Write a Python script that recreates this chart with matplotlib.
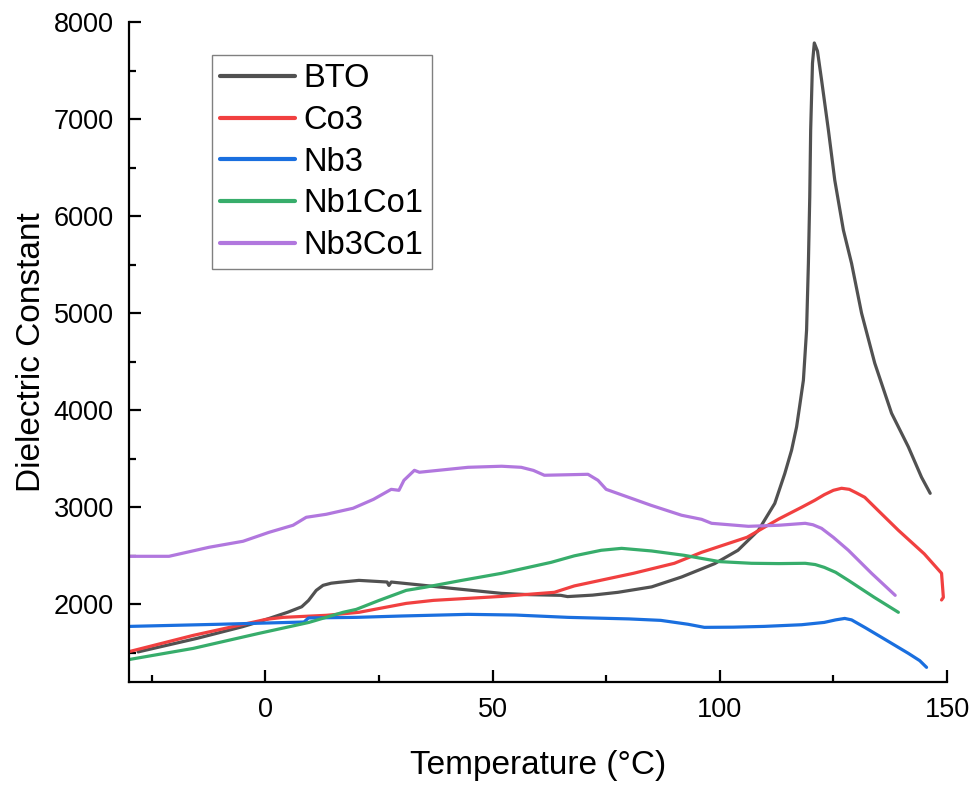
import matplotlib
matplotlib.use("Agg")
import matplotlib.pyplot as plt
from matplotlib.ticker import MultipleLocator

plt.rcParams['font.family'] = ['Liberation Sans', 'DejaVu Sans']

# ---- data ----
bto_x = [-28, -15, -5, -1.4, 5, 8, 9.5, 11.2, 12.7, 14.5, 16.2, 20.6, 25, 26.8, 27.2, 27.7, 34, 41, 52, 58, 65, 66.5, 72,
         77.6, 85, 91.6, 98.9, 104, 108.5, 112.1, 114.3, 115.8, 116.9, 117.6, 118.4, 119.1, 119.5, 119.8, 120.0, 120.4,
         120.8, 121.5, 122.4, 123.9, 125.3, 127.2, 129, 131.2, 134.1, 137.8, 141.5, 144.4, 146.3]
bto_y = [1510, 1650, 1770, 1820, 1920, 1975, 2040, 2144, 2196, 2218, 2227, 2247, 2235, 2230, 2195, 2230, 2200, 2165, 2113, 2100,
         2093, 2080, 2095, 2124, 2180, 2282, 2420, 2557, 2763, 3040, 3347, 3588, 3828, 4050, 4309, 4825, 5513, 6200, 6887,
         7575, 7784, 7700, 7402, 6887, 6371, 5856, 5513, 5000, 4485, 3969, 3622, 3309, 3144]

co3_x = [-29.8, -15.9, 0.1, 3.9, 13.4, 20.6, 31, 37, 52, 63.6, 68, 81, 90, 96, 106, 113, 118, 120.9, 123, 125, 126.8, 128.5,
         130, 131.9, 135, 139.3, 145, 148.8, 149.2, 148.8]
co3_y = [1515, 1680, 1845, 1866, 1887, 1918, 2010, 2041, 2082, 2124, 2190, 2320, 2423, 2536, 2691, 2880, 3000, 3072, 3130, 3175,
         3196, 3185, 3150, 3103, 2960, 2763, 2520, 2320, 2072, 2045]

nb3_x = [-29.8, -10, 8.5, 9.5, 20, 30, 44.6, 55, 66.6, 80, 87, 93, 96.6, 103, 109.8, 118, 123, 125.5, 127.5, 129, 132,
         135.6, 141.5, 144, 145.5]
nb3_y = [1773, 1795, 1818, 1860, 1866, 1880, 1897, 1890, 1866, 1850, 1835, 1795, 1763, 1765, 1773, 1790, 1814, 1840, 1855, 1840,
         1760, 1660, 1495, 1420, 1351]

nb1co1_x = [-29.8, -15.9, -1.4, 9.6, 17.1, 20, 25, 31, 35, 43, 52, 62.9, 68, 73.9, 78.4, 85, 92.2, 100, 107, 113, 118.8, 121,
            123, 125.5, 128.3, 134, 139.3]
nb1co1_y = [1433, 1546, 1701, 1814, 1918, 1948, 2040, 2144, 2175, 2245, 2320, 2433, 2500, 2557, 2577, 2550, 2505, 2440, 2423, 2420,
            2423, 2410, 2381, 2330, 2247, 2072, 1918]

nb3co1_x = [-29.8, -21.2, -12.4, -4.9, 0.8, 6.1, 9, 13.4, 19.3, 23.8, 27.7, 29.4, 30.5, 32.8, 33.9, 44.6, 52, 56.3, 59, 61.4,
            71, 73.2, 75, 84.9, 91.6, 96, 98.2, 106.3, 113, 118.8, 120.5, 122.4, 125, 128.3, 133.4, 138.6]
nb3co1_y = [2495, 2495, 2588, 2650, 2742, 2815, 2897, 2928, 2990, 3082, 3185, 3175, 3278, 3381, 3361, 3412, 3423, 3412, 3380, 3330,
            3340, 3278, 3185, 3020, 2918, 2876, 2835, 2804, 2815, 2835, 2820, 2783, 2690, 2557, 2320, 2093]

series_names = ["BTO", "Co3", "Nb3", "Nb1Co1", "Nb3Co1"]
series_colors = ["#515151", "#F14040", "#1A6FDF", "#37AD6B", "#B177DE"]

x_ticks = [0, 50, 100, 150]
y_ticks = [2000, 3000, 4000, 5000, 6000, 7000, 8000]

fig = plt.figure(figsize=(9.75, 7.85), dpi=100)
ax = fig.add_axes([129 / 975, 1 - 682 / 785, (947 - 129) / 975, (682 - 22) / 785])

data = [(bto_x, bto_y), (co3_x, co3_y), (nb3_x, nb3_y), (nb1co1_x, nb1co1_y), (nb3co1_x, nb3co1_y)]
for (xs, ys), name, c in zip(data, series_names, series_colors):
    ax.plot(xs, ys, color=c, lw=2.3, label=name, solid_capstyle='round', solid_joinstyle='round')

ax.set_xlim(-30, 150)
ax.set_ylim(1200, 8000)
ax.set_xticks(x_ticks)
ax.set_yticks(y_ticks)
ax.xaxis.set_minor_locator(MultipleLocator(25))
ax.yaxis.set_minor_locator(MultipleLocator(500))

for s in ['top', 'right']:
    ax.spines[s].set_visible(False)
for s in ['left', 'bottom']:
    ax.spines[s].set_linewidth(1.6)

ax.tick_params(which='major', direction='in', length=8.6, width=1.6, labelsize=19.5, pad=11)
ax.tick_params(which='minor', direction='in', length=5, width=1.6)

ax.set_xlabel("Temperature (°C)", fontsize=24, labelpad=19)
ax.set_ylabel("Dielectric Constant", fontsize=24, labelpad=5)

leg = ax.legend(loc='upper left', bbox_to_anchor=(212 / 975, 1 - 55 / 785), bbox_transform=fig.transFigure,
                borderaxespad=0, fontsize=23.5, frameon=True, fancybox=False, handlelength=2.3,
                handletextpad=0.25, labelspacing=0.33, borderpad=0.25)
leg.get_frame().set_edgecolor('#606060')
leg.get_frame().set_linewidth(1.0)
for l in leg.get_lines():
    l.set_linewidth(3)

fig.savefig("out.png", dpi=100)
